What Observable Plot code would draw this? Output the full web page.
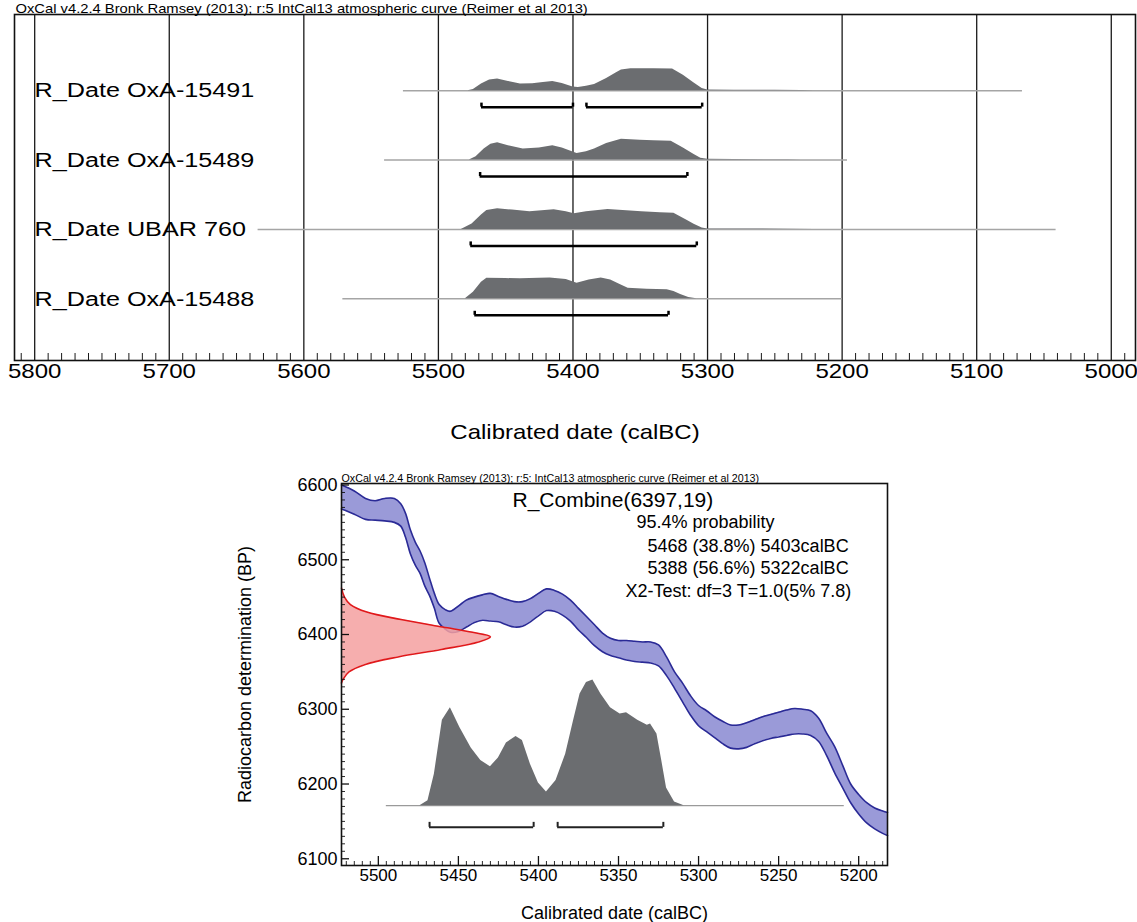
<!DOCTYPE html>
<html><head><meta charset="utf-8">
<script src="https://cdn.jsdelivr.net/npm/d3@7"></script>
<script src="https://cdn.jsdelivr.net/npm/@observablehq/plot@0.6"></script>
<style>
body{margin:0;background:#fff;}
#chart svg{display:block;}
</style></head><body><div id="chart"></div>
<script>
// ---------- TOP CHART DATA ----------
const topTitle = "OxCal v4.2.4 Bronk Ramsey (2013); r:5 IntCal13 atmospheric curve (Reimer et al 2013)";
const sampleNames = ["R_Date OxA-15491", "R_Date OxA-15489", "R_Date UBAR 760", "R_Date OxA-15488"];
const sampleRangeStart = [5526, 5540, 5634, 5571];
const sampleRangeEnd = [5066, 5196, 5041, 5200];

const densYears15491 = [5478,5474,5468,5462,5456,5448,5439,5430,5422,5415,5408,5400,5396,5390,5384,5375,5368,5364,5357,5340,5326,5318,5310,5304,5300,5280,5250,5230,5221];
const dens15491 = [0,0.05,0.3,0.48,0.53,0.42,0.3,0.31,0.37,0.42,0.32,0.17,0.14,0.2,0.28,0.55,0.8,0.94,1.0,1.0,0.98,0.7,0.35,0.1,0.03,0.02,0.02,0.01,0];
const densYears15489 = [5477,5472,5466,5461,5456,5448,5437,5425,5415,5408,5397,5390,5384,5375,5364,5350,5340,5327,5318,5310,5305,5300,5280,5240,5230];
const dens15489 = [0,0.15,0.5,0.72,0.79,0.65,0.5,0.55,0.65,0.55,0.3,0.38,0.5,0.75,0.94,0.9,0.88,0.85,0.55,0.25,0.08,0.03,0.02,0.01,0];
const densYearsUBAR760 = [5483,5475,5468,5464,5456,5445,5432,5414,5405,5399,5390,5374,5360,5349,5335,5325,5315,5310,5304,5300,5260,5221];
const densUBAR760 = [0,0.25,0.65,0.86,0.94,0.88,0.8,0.89,0.8,0.71,0.8,0.91,0.85,0.8,0.76,0.74,0.4,0.23,0.06,0.02,0.02,0];
const densYears15488 = [5480,5474,5468,5464,5450,5439,5425,5417,5405,5397,5388,5379,5372,5365,5359,5345,5330,5325,5320,5314,5308];
const dens15488 = [0,0.3,0.75,0.94,0.92,0.91,0.93,0.95,0.88,0.71,0.85,0.95,0.86,0.65,0.48,0.43,0.41,0.33,0.2,0.06,0];

// 95.4% ranges (sample index, from, to)
const hpdSample = [0, 0, 1, 2, 3];
const hpdFrom = [5468, 5390, 5469, 5476, 5473];
const hpdTo = [5400, 5304, 5315, 5308, 5329];

const topMajorTicks = [5800, 5700, 5600, 5500, 5400, 5300, 5200, 5100, 5000];
const topAxisLabel = "Calibrated date (calBC)";

// ---------- BOTTOM CHART DATA ----------
const bottomTitle = "OxCal v4.2.4 Bronk Ramsey (2013); r:5: IntCal13 atmospheric curve (Reimer et al 2013)";
const combineName = "R_Combine(6397,19)";
const statsLines = ["95.4% probability", "5468 (38.8%) 5403calBC", "5388 (56.6%) 5322calBC", "X2-Test: df=3 T=1.0(5% 7.8)"];

const curveYears = [5523,5515,5508,5502,5496,5490,5486,5483,5480,5477,5474,5471,5468,5465,5462,5458,5455,5450,5445,5440,5435,5430,5425,5420,5415,5410,5405,5400,5395,5390,5385,5380,5375,5370,5365,5360,5355,5350,5345,5340,5335,5330,5325,5320,5315,5310,5305,5300,5295,5290,5285,5280,5275,5270,5265,5260,5255,5250,5245,5240,5235,5230,5225,5220,5215,5210,5205,5200,5195,5190,5185,5182];
const curveUpper = [6600,6592,6582,6579,6582,6582,6575,6562,6540,6524,6512,6496,6475,6455,6440,6433,6431,6438,6446,6450,6453,6455,6451,6447,6444,6444,6448,6455,6461,6459,6454,6446,6435,6424,6413,6402,6395,6392,6392,6391,6390,6390,6386,6370,6350,6335,6318,6305,6298,6290,6284,6279,6279,6282,6286,6290,6293,6296,6299,6301,6300,6298,6288,6268,6250,6225,6200,6186,6175,6168,6164,6162];
const curveLower = [6568,6561,6554,6553,6552,6550,6545,6530,6508,6493,6482,6465,6452,6435,6415,6407,6403,6404,6410,6416,6419,6418,6417,6413,6410,6411,6417,6425,6432,6431,6426,6418,6406,6396,6385,6377,6372,6369,6366,6364,6363,6362,6358,6345,6328,6310,6292,6278,6270,6262,6254,6248,6247,6249,6254,6258,6261,6263,6265,6267,6267,6265,6257,6238,6215,6195,6175,6160,6148,6140,6134,6131];

const measBP = [6462,6450,6440,6430,6420,6410,6403,6397,6390,6380,6370,6360,6350,6340,6335];
const measProb = [0,0.02,0.06,0.17,0.4,0.68,0.88,1.0,0.92,0.67,0.38,0.16,0.05,0.01,0];

const combYears = [5474,5469,5465,5460,5455,5449,5442,5436,5430,5425,5420,5414,5410,5405,5400,5395,5389,5383,5378,5374,5370,5366,5361,5355,5349,5345,5338,5332,5330,5326,5323,5320,5315,5309];
const combDens = [0,0.04,0.25,0.68,0.78,0.62,0.46,0.36,0.31,0.38,0.5,0.55,0.52,0.33,0.18,0.11,0.2,0.41,0.68,0.89,0.98,1.0,0.89,0.78,0.73,0.74,0.68,0.64,0.65,0.57,0.36,0.14,0.03,0];
const combRange = [5495, 5209];
const combHpdFrom = [5468, 5388];
const combHpdTo = [5403, 5322];

const bottomXTicks = [5500, 5450, 5400, 5350, 5300, 5250, 5200];
const bottomYTicks = [6100, 6200, 6300, 6400, 6500, 6600];
const bottomXLabel = "Calibrated date (calBC)";
const bottomYLabel = "Radiocarbon determination (BP)";

// ---------- BUILD ----------
const FONT = "'Liberation Sans', Arial, Helvetica, sans-serif";
const GREY = "#6b6d70";

const densSeries = [[densYears15491, dens15491], [densYears15489, dens15489], [densYearsUBAR760, densUBAR760], [densYears15488, dens15488]];
const rows = sampleNames.map((name, i) => ({name, pos: 4 - i, start: sampleRangeStart[i], end: sampleRangeEnd[i]}));
const densRows = [];
densSeries.forEach(([yrs, ds], i) => yrs.forEach((yr, j) => densRows.push({name: sampleNames[i], pos: 4 - i, year: yr, d: ds[j]})));
const hpdRows = hpdSample.map((s, k) => ({pos: 4 - s, from: hpdFrom[k], to: hpdTo[k]}));
const DH = 0.317, BO = 0.238, BT = 0.058;
const topMinor = d3.range(4990, 5815, 10).filter(v => v % 100 !== 0);

const topPlot = Plot.plot({
  width: 1137, height: 450,
  marginLeft: 14, marginRight: 2, marginTop: 14, marginBottom: 90,
  x: {domain: [5815, 4982]},
  y: {domain: [0.111, 5.097], axis: null},
  style: {fontFamily: FONT, color: "black", background: "white", overflow: "visible"},
  marks: [
    Plot.ruleX(topMajorTicks, {stroke: "#1a1a1a", strokeWidth: 1.3}),
    Plot.tickX(topMinor, {x: d => d, insetTop: 339, stroke: "#1a1a1a", strokeWidth: 1}),
    Plot.ruleY(rows, {y: "pos", x1: "start", x2: "end", stroke: "#a5a5a5", strokeWidth: 1.5}),
    Plot.areaY(densRows, {x: "year", y1: "pos", y2: d => d.pos + d.d * DH, z: "name", fill: GREY, curve: "linear"}),
    Plot.ruleY(hpdRows, {y: d => d.pos - BO, x1: "from", x2: "to", stroke: "black", strokeWidth: 2.5}),
    Plot.ruleX(hpdRows, {x: "from", y1: d => d.pos - BO, y2: d => d.pos - BO + BT, stroke: "black", strokeWidth: 2.5}),
    Plot.ruleX(hpdRows, {x: "to", y1: d => d.pos - BO, y2: d => d.pos - BO + BT, stroke: "black", strokeWidth: 2.5}),
    Plot.text(rows, {y: "pos", text: "name", frameAnchor: "left", dx: 20, textAnchor: "start", lineAnchor: "middle", fontSize: 21, fill: "black"}),
    Plot.frame({stroke: "#111", strokeWidth: 1.6}),
    Plot.axisX({ticks: topMajorTicks, tickFormat: d => String(d), tickSize: 0, tickPadding: 3, fontSize: 20, label: null}),
    Plot.text([topAxisLabel], {text: d => d, frameAnchor: "bottom", dy: 72, textAnchor: "middle", lineAnchor: "middle", fontSize: 20}),
    Plot.text([topTitle], {text: d => d, frameAnchor: "top-left", dx: 1, dy: -2, textAnchor: "start", lineAnchor: "bottom", fontSize: 12.3})
  ]
});
// original figure is horizontally stretched: widen glyphs of the top chart
d3.select(topPlot).selectAll("text").each(function() {
  const t = this.getAttribute("transform");
  if (t && t.includes("translate")) this.setAttribute("transform", t + " scale(1.2,1)");
});

const curveRows = curveYears.map((y, i) => ({year: y, upper: curveUpper[i], lower: curveLower[i]}));
const measRows = measBP.map((b, i) => ({bp: b, p: measProb[i]}));
const combRows = combYears.map((y, i) => ({year: y, d: combDens[i]}));
const X0 = 5523, X1 = 5182;
const PW = 93;          // width of measurement curve in years of the x scale
const BASE = 6171, DHB = 168, BOB = 29, BTB = 6.7;
const combHpd = combHpdFrom.map((f, i) => ({from: f, to: combHpdTo[i]}));
const bxMinor = d3.range(5185, 5523, 5).filter(v => v % 50 !== 0);
const byMinor = d3.range(6100, 6601, 10).filter(v => v % 100 !== 0);

// statistics text placement (offsets from frame top-left)
const statsDx = [295, 306, 306, 284];
const statsDy = [39, 62.5, 85, 107.5];
const statsMarks = statsLines.map((s, i) =>
  Plot.text([s], {text: d => d, frameAnchor: "top-left", dx: statsDx[i], dy: statsDy[i], textAnchor: "start", lineAnchor: "middle", fontSize: 18}));

const bottomPlot = Plot.plot({
  width: 1137, height: 472,
  marginLeft: 341, marginRight: 250, marginTop: 33, marginBottom: 57,
  x: {domain: [X0, X1]},
  y: {domain: [6091, 6602]},
  style: {fontFamily: FONT, color: "black", background: "white", overflow: "visible"},
  marks: [
    Plot.areaY(curveRows, {x: "year", y1: "lower", y2: "upper", fill: "#9a9ad8", curve: "catmull-rom"}),
    Plot.lineY(curveRows, {x: "year", y: "upper", stroke: "#2a2a96", strokeWidth: 1.6, curve: "catmull-rom"}),
    Plot.lineY(curveRows, {x: "year", y: "lower", stroke: "#2a2a96", strokeWidth: 1.6, curve: "catmull-rom"}),
    Plot.areaX(measRows, {y: "bp", x1: X0, x2: d => X0 - d.p * PW, fill: "#f4a0a0", fillOpacity: 0.85, curve: "catmull-rom"}),
    Plot.lineX(measRows, {y: "bp", x: d => X0 - d.p * PW, stroke: "#e0191b", strokeWidth: 1.6, curve: "catmull-rom"}),
    Plot.ruleY([BASE], {x1: combRange[0], x2: combRange[1], stroke: "#9a9a9a", strokeWidth: 1.3}),
    Plot.areaY(combRows, {x: "year", y1: BASE, y2: d => BASE + d.d * DHB, fill: GREY}),
    Plot.ruleY(combHpd, {y: BASE - BOB, x1: "from", x2: "to", stroke: "#222", strokeWidth: 2}),
    Plot.ruleX(combHpd, {x: "from", y1: BASE - BOB, y2: BASE - BOB + BTB, stroke: "#222", strokeWidth: 2}),
    Plot.ruleX(combHpd, {x: "to", y1: BASE - BOB, y2: BASE - BOB + BTB, stroke: "#222", strokeWidth: 2}),
    Plot.frame({stroke: "#111", strokeWidth: 1.6}),
    Plot.tickX(bottomXTicks, {x: d => d, insetTop: 373, stroke: "#111", strokeWidth: 1.3}),
    Plot.tickX(bxMinor, {x: d => d, insetTop: 378, stroke: "#111", strokeWidth: 0.9}),
    Plot.tickY(bottomYTicks, {y: d => d, insetRight: 538, stroke: "#111", strokeWidth: 1.3}),
    Plot.tickY(byMinor, {y: d => d, insetRight: 542, stroke: "#111", strokeWidth: 0.9}),
    Plot.axisX({ticks: bottomXTicks, tickFormat: d => String(d), tickSize: 0, tickPadding: 3, fontSize: 17, label: null}),
    Plot.axisY({ticks: bottomYTicks, tickFormat: d => String(d), tickSize: 0, tickPadding: 4, fontSize: 18, label: null}),
    Plot.text([bottomXLabel], {text: d => d, frameAnchor: "bottom", dy: 48, textAnchor: "middle", lineAnchor: "middle", fontSize: 18}),
    Plot.text([bottomYLabel], {text: d => d, frameAnchor: "left", dx: -96, rotate: -90, textAnchor: "middle", lineAnchor: "middle", fontSize: 18}),
    Plot.text([bottomTitle], {text: d => d, frameAnchor: "top-left", dx: 0, dy: -2, textAnchor: "start", lineAnchor: "bottom", fontSize: 10.7}),
    Plot.text([combineName], {text: d => d, frameAnchor: "top-left", dx: 171, dy: 17, textAnchor: "start", lineAnchor: "middle", fontSize: 21}),
    ...statsMarks
  ]
});

const chart = document.getElementById("chart");
chart.appendChild(topPlot);
chart.appendChild(bottomPlot);
</script></body></html>
